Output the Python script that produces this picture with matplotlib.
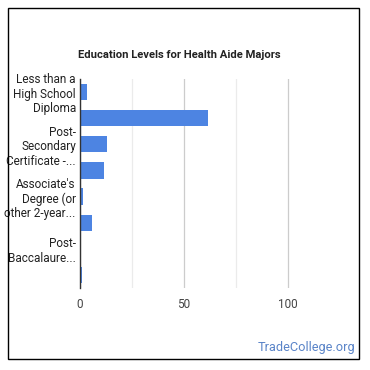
import matplotlib.pyplot as plt
from matplotlib.patches import Rectangle

# data
categories = ["Less than a High School Diploma", "High School Diploma",
              "Post-Secondary Certificate", "Some College Courses",
              "Associate's Degree", "Bachelor's Degree",
              "Post-Baccalaureate", "Master's Degree"]
tick_labels = ["Less than a\nHigh School\nDiploma", "",
               "Post-\nSecondary\nCertificate -...", "",
               "Associate's\nDegree (or\nother 2-year...", "",
               "Post-\nBaccalaure...", ""]
values = [3.5, 61.5, 13, 11.5, 1.5, 6, 0.5, 1.2]
major_ticks = [0, 50, 100]
minor_ticks = [25, 75]

plt.rcParams['font.family'] = ['Roboto', 'DejaVu Sans']

fig = plt.figure(figsize=(3.7, 3.7), dpi=100)
fig.patches.append(Rectangle((8/370, 11/370), 351/370, 351/370, transform=fig.transFigure,
                             fill=False, edgecolor='black', linewidth=1.0))

ax = fig.add_axes([80/370, 82/370, 260/370, 209/370])
pos = list(range(len(categories)))
ax.barh(pos, values, height=0.62, color='#4d84e2', zorder=3)
ax.set_ylim(len(categories) - 0.5, -0.5)
ax.set_xlim(0, 125)

ax.set_yticks(pos)
ax.set_yticklabels(tick_labels, fontsize=8.5, color='#222222', linespacing=1.15)
ax.set_xticks(major_ticks)
ax.set_xticklabels([str(t) for t in major_ticks], fontsize=8.5, color='#444444')
ax.set_xticks(minor_ticks, minor=True)
ax.tick_params(axis='both', length=0, which='both')
ax.tick_params(axis='y', pad=3)
ax.tick_params(axis='x', pad=7)

ax.grid(axis='x', which='major', color='#cccccc', linewidth=0.9, zorder=0)
ax.grid(axis='x', which='minor', color='#ebebeb', linewidth=0.9, zorder=0)
for s in ['top', 'right', 'bottom']:
    ax.spines[s].set_visible(False)
ax.spines['left'].set_color('#333333')
ax.spines['left'].set_linewidth(1.0)
ax.spines['left'].set_zorder(4)

fig.text(179/370, 1 - 55/370, "Education Levels for Health Aide Majors",
         ha='center', va='center', fontsize=8.1, fontweight='bold', color='#222222')
fig.text(355/370, 1 - 348/370, "TradeCollege.org", ha='right', va='center',
         fontsize=9.2, color='#5a84c8')

fig.savefig("out.png", dpi=100)
